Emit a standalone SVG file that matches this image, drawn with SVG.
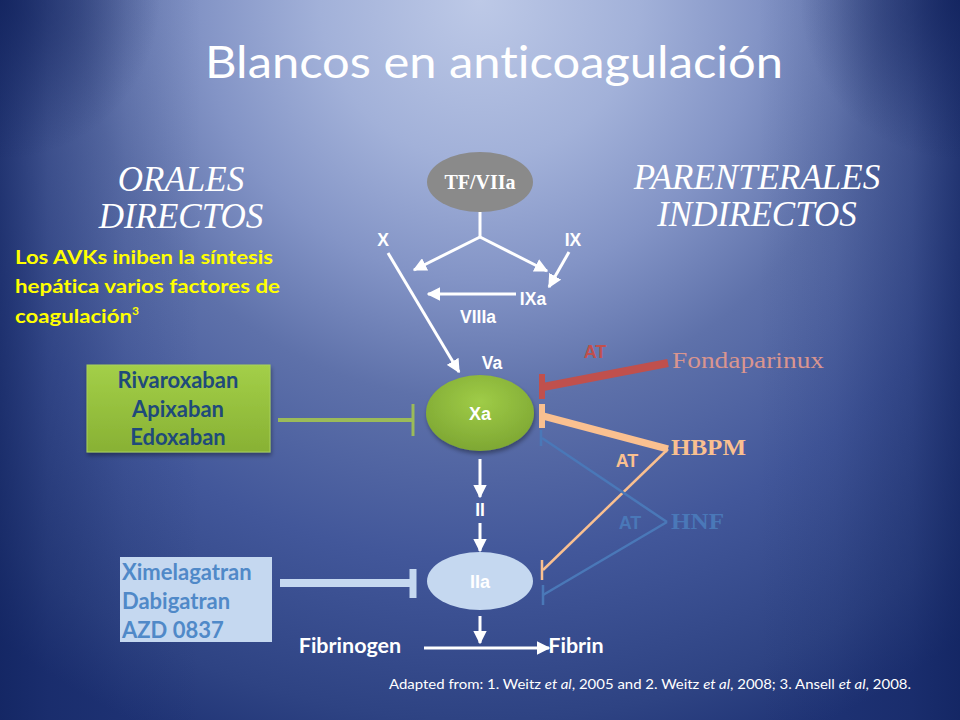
<svg xmlns="http://www.w3.org/2000/svg" width="960" height="720" viewBox="0 0 960 720">
<defs>
<radialGradient id="bg" gradientUnits="userSpaceOnUse" cx="480" cy="0" r="800">
<stop offset="0" stop-color="#bdc9e7"/>
<stop offset="0.2" stop-color="#a2b1d9"/>
<stop offset="0.35" stop-color="#8394c6"/>
<stop offset="0.5" stop-color="#5e71aa"/>
<stop offset="0.7" stop-color="#42579a"/>
<stop offset="0.9" stop-color="#2e4383"/>
<stop offset="1" stop-color="#1f3375"/>
</radialGradient>
<linearGradient id="edge" x1="0" y1="0" x2="960" y2="0" gradientUnits="userSpaceOnUse">
<stop offset="0" stop-color="#10225e" stop-opacity="0.7"/>
<stop offset="0.05" stop-color="#10225e" stop-opacity="0.35"/>
<stop offset="0.13" stop-color="#10225e" stop-opacity="0.1"/>
<stop offset="0.21" stop-color="#10225e" stop-opacity="0"/>
<stop offset="0.79" stop-color="#10225e" stop-opacity="0"/>
<stop offset="0.87" stop-color="#10225e" stop-opacity="0.1"/>
<stop offset="0.95" stop-color="#10225e" stop-opacity="0.35"/>
<stop offset="1" stop-color="#10225e" stop-opacity="0.7"/>
</linearGradient>
<radialGradient id="cornerL" gradientUnits="userSpaceOnUse" cx="0" cy="0" r="160">
<stop offset="0" stop-color="#0e1f5a" stop-opacity="0.7"/>
<stop offset="1" stop-color="#0e1f5a" stop-opacity="0"/>
</radialGradient>
<radialGradient id="cornerR" gradientUnits="userSpaceOnUse" cx="960" cy="0" r="160">
<stop offset="0" stop-color="#0e1f5a" stop-opacity="0.7"/>
<stop offset="1" stop-color="#0e1f5a" stop-opacity="0"/>
</radialGradient>
<linearGradient id="green" x1="0" y1="0" x2="0" y2="1">
<stop offset="0" stop-color="#a3cf48"/>
<stop offset="1" stop-color="#88b134"/>
</linearGradient>
<radialGradient id="xa" cx="0.5" cy="0.35" r="0.65">
<stop offset="0" stop-color="#9fcc47"/>
<stop offset="1" stop-color="#7ea733"/>
</radialGradient>
<filter id="sh" x="-20%" y="-20%" width="140%" height="150%">
<feDropShadow dx="1" dy="3" stdDeviation="2" flood-color="#000" flood-opacity="0.35"/>
</filter>
<marker id="ah" viewBox="0 0 10 10" refX="9" refY="5" markerWidth="4.6" markerHeight="4.6" markerUnits="strokeWidth" orient="auto">
<path d="M0,0 L10,5 L0,10 z" fill="#fff"/>
</marker>
</defs>
<style>
text{font-variant-ligatures:none;}
.sans{font-family:Lato,"Open Sans","Liberation Sans",sans-serif;}
.serif{font-family:"Liberation Serif","DejaVu Serif",serif;}
.w{fill:#fff;}
.lbl{font-family:"Liberation Sans",Arial,sans-serif;font-weight:bold;}
.arr{stroke:#fff;stroke-width:3;fill:none;marker-end:url(#ah);}
</style>
<rect width="960" height="720" fill="url(#bg)"/>
<rect width="960" height="720" fill="url(#edge)"/>
<rect width="960" height="720" fill="url(#cornerL)"/>
<rect width="960" height="720" fill="url(#cornerR)"/>

<text class="sans w" x="494" y="78" font-size="45" text-anchor="middle" textLength="578" lengthAdjust="spacingAndGlyphs">Blancos en anticoagulación</text>

<g id="orales">
<text class="serif w" font-style="italic" font-size="35" text-anchor="middle"><tspan x="181" y="191">ORALES</tspan><tspan x="181" y="228">DIRECTOS</tspan></text>
</g>
<g id="parenterales">
<text class="serif w" font-style="italic" font-size="35" text-anchor="middle"><tspan x="757" y="189">PARENTERALES</tspan><tspan x="757" y="226">INDIRECTOS</tspan></text>
</g>
<g id="avk">
<text class="sans" font-weight="bold" font-size="19.5" fill="#ffff00"><tspan x="15" y="264" textLength="258" lengthAdjust="spacingAndGlyphs">Los AVKs iniben la síntesis</tspan><tspan x="15" y="293" textLength="265" lengthAdjust="spacingAndGlyphs">hepática varios factores de</tspan><tspan x="15" y="323" textLength="117" lengthAdjust="spacingAndGlyphs">coagulación</tspan><tspan font-size="12" dy="-8">3</tspan></text>
</g>

<g id="connectors">
<polyline points="480,212 480,237" stroke="#fff" stroke-width="3" fill="none"/>
<line x1="480" y1="237" x2="414" y2="270" class="arr"/>
<line x1="480" y1="237" x2="547" y2="271" class="arr"/>
<line x1="388" y1="253" x2="459" y2="372" class="arr"/>
<line x1="569" y1="252" x2="549" y2="287" class="arr"/>
<line x1="516" y1="294" x2="428" y2="294" class="arr"/>
<line x1="480" y1="459" x2="480" y2="497" class="arr"/>
<line x1="480" y1="523" x2="480" y2="551" class="arr"/>
<line x1="480" y1="616" x2="480" y2="643" class="arr"/>
<line x1="424" y1="648" x2="549" y2="648" class="arr"/>
<!-- green inhibition -->
<line x1="278" y1="420" x2="412" y2="420" stroke="#9bbb59" stroke-width="4"/>
<line x1="413" y1="404" x2="413" y2="436" stroke="#9bbb59" stroke-width="3"/>
<!-- light blue inhibition -->
<line x1="280" y1="583" x2="412" y2="583" stroke="#c5d8f0" stroke-width="8"/>
<line x1="413" y1="569" x2="413" y2="598" stroke="#c5d8f0" stroke-width="7"/>
<!-- Fondaparinux -->
<line x1="668" y1="363" x2="543" y2="387" stroke="#c0504d" stroke-width="8"/>
<line x1="542" y1="374" x2="542" y2="399" stroke="#c0504d" stroke-width="6"/>
<!-- HBPM -->
<line x1="668" y1="449" x2="543" y2="416" stroke="#fac090" stroke-width="7"/>
<line x1="542" y1="404" x2="542" y2="428" stroke="#fac090" stroke-width="6"/>
<line x1="668" y1="449" x2="543" y2="570" stroke="#fac090" stroke-width="2.5"/>
<line x1="542" y1="560" x2="542" y2="580" stroke="#fac090" stroke-width="2.5"/>
<!-- HNF -->
<line x1="667" y1="522" x2="542" y2="438" stroke="#4a78b8" stroke-width="2.5"/>
<line x1="541" y1="430" x2="541" y2="446" stroke="#4a78b8" stroke-width="2.5"/>
<line x1="667" y1="522" x2="543" y2="595" stroke="#4a78b8" stroke-width="2.5"/>
<line x1="543" y1="585" x2="543" y2="605" stroke="#4a78b8" stroke-width="2.5"/>
</g>

<g id="tf">
<ellipse cx="480" cy="182" rx="53" ry="30" fill="#8a8a8a"/>
<text class="serif w" x="480" y="189" font-size="20" font-weight="bold" text-anchor="middle">TF/VIIa</text>
</g>
<g id="labels" class="lbl" fill="#fff" font-size="17.5" text-anchor="middle">
<text x="383" y="246">X</text>
<text x="573" y="246">IX</text>
<text x="533" y="305">IXa</text>
<text x="478" y="323">VIIIa</text>
<text x="492" y="369">Va</text>
<text x="480" y="516">II</text>
</g>
<g id="xa-node">
<ellipse cx="480" cy="413" rx="54" ry="38" fill="url(#xa)" filter="url(#sh)"/>
<text class="lbl" x="480" y="420" font-size="18" fill="#fff" text-anchor="middle">Xa</text>
</g>
<g id="iia-node">
<ellipse cx="480" cy="581" rx="53" ry="29" fill="#c5d8f0"/>
<text class="lbl" x="480" y="588" font-size="18" fill="#fff" text-anchor="middle">IIa</text>
</g>
<g id="fibrinogen">
<text class="sans w" x="350" y="653" font-size="21.5" font-weight="bold" text-anchor="middle">Fibrinogen</text>
</g>
<g id="fibrin">
<text class="sans w" x="576" y="653" font-size="21.5" font-weight="bold" text-anchor="middle">Fibrin</text>
</g>
<g id="xa-inhib">
<rect x="87" y="365" width="183" height="87" fill="url(#green)" stroke="#a9d15a" stroke-width="1" filter="url(#sh)"/>
<text class="sans" font-size="22" font-weight="bold" fill="#1f4a7a" text-anchor="middle"><tspan x="178" y="388">Rivaroxaban</tspan><tspan x="178" y="417">Apixaban</tspan><tspan x="178" y="445">Edoxaban</tspan></text>
</g>
<g id="iia-inhib">
<rect x="120" y="557" width="152" height="85" fill="#c5d8f0"/>
<text class="sans" font-size="22" font-weight="bold" fill="#5089c8"><tspan x="122" y="580">Ximelagatran</tspan><tspan x="122" y="609">Dabigatran</tspan><tspan x="122" y="638">AZD 0837</tspan></text>
</g>
<g id="fondaparinux">
<text class="lbl" x="595" y="358" font-size="18" fill="#c0504d" text-anchor="middle">AT</text>
<text class="serif" x="672" y="368" font-size="24" fill="#d9958f" textLength="152" lengthAdjust="spacingAndGlyphs">Fondaparinux</text>
</g>
<g id="hbpm">
<text class="lbl" x="627" y="467" font-size="18" fill="#fac090" text-anchor="middle">AT</text>
<text class="serif" x="671" y="455" font-size="24" font-weight="bold" fill="#fac090" textLength="75" lengthAdjust="spacingAndGlyphs">HBPM</text>
</g>
<g id="hnf">
<text class="lbl" x="630" y="529" font-size="18" fill="#4a78b8" text-anchor="middle">AT</text>
<text class="serif" x="671" y="529" font-size="24" font-weight="bold" fill="#4a78b8" textLength="53" lengthAdjust="spacingAndGlyphs">HNF</text>
</g>
<g id="footer">
<text class="sans w" x="389" y="689" font-size="12.5" textLength="522" lengthAdjust="spacingAndGlyphs">Adapted from: 1. Weitz <tspan font-style="italic">et al</tspan>, 2005 and 2. Weitz <tspan font-style="italic">et al</tspan>, 2008; 3. Ansell <tspan font-style="italic">et al</tspan>, 2008.</text>
</g>
</svg>
